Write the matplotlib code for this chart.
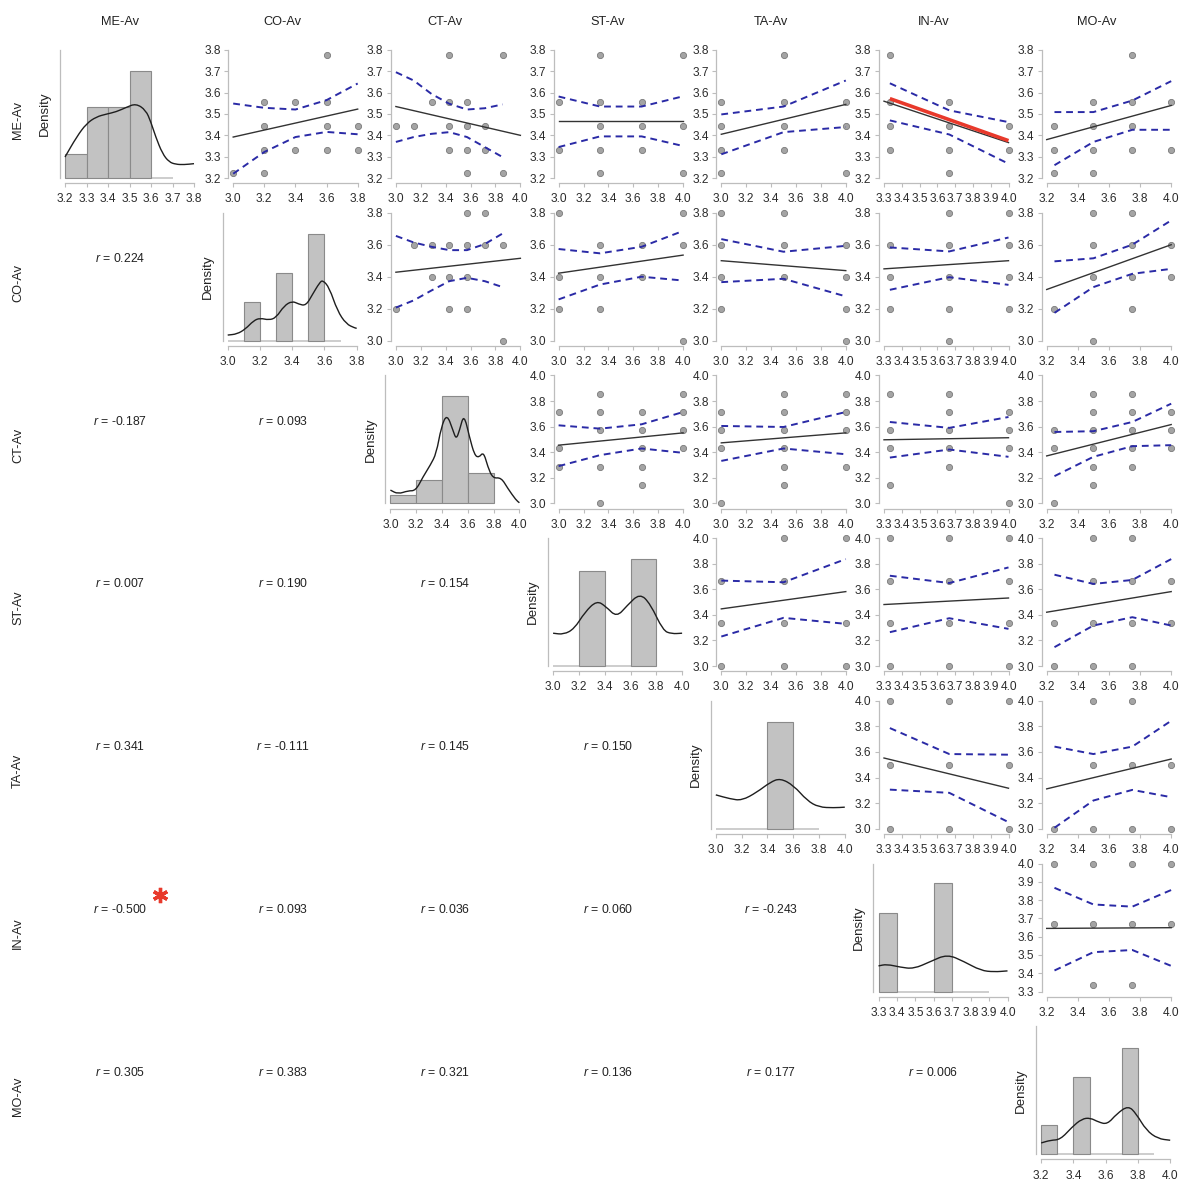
import numpy as np
import matplotlib
matplotlib.use("Agg")
import matplotlib.pyplot as plt
from matplotlib.path import Path
from matplotlib.patches import PathPatch

plt.rcParams['font.family'] = ['Liberation Sans', 'DejaVu Sans']
plt.rcParams['mathtext.fontset'] = 'custom'
plt.rcParams['mathtext.it'] = 'Liberation Sans:italic'
plt.rcParams['mathtext.rm'] = 'Liberation Sans'

# ---------------------------------------------------------------- data
keys = ["ME", "CO", "CT", "ST", "TA", "IN", "MO"]
names = ["ME-Av", "CO-Av", "CT-Av", "ST-Av", "TA-Av", "IN-Av", "MO-Av"]

# axis range and tick step of every variable
axis_min = [3.2, 3.0, 3.0, 3.0, 3.0, 3.3, 3.2]
axis_max = [3.8, 3.8, 4.0, 4.0, 4.0, 4.0, 4.0]
axis_step = [0.1, 0.2, 0.2, 0.2, 0.2, 0.1, 0.2]

# distinct observed values of each variable
levels = {
    "ME": [3.222, 3.333, 3.444, 3.556, 3.778],
    "CO": [3.0, 3.2, 3.4, 3.6, 3.8],
    "CT": [3.0, 3.143, 3.286, 3.429, 3.571, 3.714, 3.857],
    "ST": [3.0, 3.333, 3.667, 4.0],
    "TA": [3.0, 3.5, 4.0],
    "IN": [3.333, 3.667, 4.0],
    "MO": [3.25, 3.5, 3.75, 4.0],
}

# Pearson correlations (lower triangle), row variable, column variable
correlations = {
    ("CO", "ME"): 0.224,
    ("CT", "ME"): -0.187, ("CT", "CO"): 0.093,
    ("ST", "ME"): 0.007, ("ST", "CO"): 0.190, ("ST", "CT"): 0.154,
    ("TA", "ME"): 0.341, ("TA", "CO"): -0.111, ("TA", "CT"): 0.145, ("TA", "ST"): 0.150,
    ("IN", "ME"): -0.500, ("IN", "CO"): 0.093, ("IN", "CT"): 0.036, ("IN", "ST"): 0.060,
    ("IN", "TA"): -0.243,
    ("MO", "ME"): 0.305, ("MO", "CO"): 0.383, ("MO", "CT"): 0.321, ("MO", "ST"): 0.136,
    ("MO", "TA"): 0.177, ("MO", "IN"): 0.006,
}
significant = [("IN", "ME")]

# histograms on the diagonal: bar left edges, bar width, relative heights
hist_left = {
    "ME": [3.2, 3.3, 3.4, 3.5],
    "CO": [3.1, 3.3, 3.5],
    "CT": [3.0, 3.2, 3.4, 3.6],
    "ST": [3.2, 3.6],
    "TA": [3.4],
    "IN": [3.3, 3.6],
    "MO": [3.2, 3.4, 3.7],
}
hist_width = {"ME": 0.1, "CO": 0.1, "CT": 0.2, "ST": 0.2, "TA": 0.2, "IN": 0.1, "MO": 0.1}
hist_height = {
    "ME": [0.19, 0.555, 0.555, 0.836],
    "CO": [0.30, 0.53, 0.83],
    "CT": [0.062, 0.18, 0.84, 0.24],
    "ST": [0.742, 0.836],
    "TA": [0.836],
    "IN": [0.61, 0.844],
    "MO": [0.23, 0.605, 0.832],
}
hist_base = {
    "ME": (3.2, 3.7), "CO": (3.0, 3.7), "CT": (3.0, 3.8), "ST": (3.0, 3.8),
    "TA": (3.0, 3.8), "IN": (3.3, 3.9), "MO": (3.2, 3.9),
}

# kernel density curves on the diagonal (relative heights)
density_x = {
    "ME": [3.2, 3.254, 3.3, 3.346, 3.392, 3.438, 3.484, 3.53, 3.576, 3.599, 3.622,
           3.653, 3.684, 3.715, 3.753, 3.8],
    "CO": [3.0, 3.058, 3.11, 3.16, 3.2, 3.256, 3.30, 3.35, 3.40, 3.44, 3.485, 3.527,
           3.57, 3.59, 3.63, 3.68, 3.735, 3.79, 3.8],
    "CT": [3.0, 3.059, 3.137, 3.196, 3.253, 3.31, 3.356, 3.394, 3.438, 3.485, 3.51,
           3.536, 3.57, 3.613, 3.652, 3.686, 3.722, 3.755, 3.794, 3.858, 3.91, 3.974, 4.0],
    "ST": [3.0, 3.082, 3.164, 3.246, 3.338, 3.41, 3.492, 3.574, 3.672, 3.754, 3.852,
           3.918, 4.0],
    "TA": [3.0, 3.111, 3.202, 3.319, 3.422, 3.5, 3.604, 3.707, 3.798, 3.915, 4.0],
    "IN": [3.3, 3.345, 3.418, 3.491, 3.582, 3.673, 3.764, 3.855, 3.927, 4.0],
    "MO": [3.2, 3.257, 3.319, 3.391, 3.452, 3.504, 3.555, 3.61, 3.668, 3.74, 3.79,
           3.852, 3.924, 4.0],
}
density_y = {
    "ME": [0.164, 0.321, 0.426, 0.478, 0.499, 0.517, 0.551, 0.582, 0.53, 0.439, 0.321,
           0.191, 0.125, 0.107, 0.104, 0.112],
    "CO": [0.044, 0.052, 0.091, 0.156, 0.177, 0.161, 0.18, 0.273, 0.31, 0.286, 0.273,
           0.364, 0.454, 0.473, 0.415, 0.234, 0.13, 0.099, 0.097],
    "CT": [0.104, 0.073, 0.099, 0.099, 0.208, 0.30, 0.39, 0.597, 0.70, 0.571, 0.50,
           0.571, 0.70, 0.519, 0.377, 0.358, 0.403, 0.286, 0.195, 0.203, 0.117, 0.026, 0.005],
    "ST": [0.257, 0.247, 0.291, 0.421, 0.512, 0.465, 0.382, 0.473, 0.569, 0.486, 0.278,
           0.252, 0.257],
    "TA": [0.265, 0.234, 0.221, 0.286, 0.364, 0.395, 0.338, 0.221, 0.169, 0.164, 0.169],
    "IN": [0.2, 0.213, 0.19, 0.177, 0.234, 0.291, 0.234, 0.164, 0.153, 0.161],
    "MO": [0.088, 0.109, 0.114, 0.212, 0.276, 0.284, 0.251, 0.233, 0.315, 0.38, 0.315,
           0.186, 0.121, 0.109],
}

# scatter points: x value (column variable) -> y values (row variable)
scatter_points = {
    ("ME", "CO"): {3.0: [3.222], 3.2: [3.556, 3.444, 3.333, 3.222], 3.4: [3.556, 3.333],
                   3.6: [3.778, 3.556, 3.444, 3.333], 3.8: [3.444, 3.333]},
    ("ME", "CT"): {3.0: [3.444], 3.143: [3.444], 3.286: [3.556],
                   3.429: [3.778, 3.556, 3.444, 3.333], 3.571: [3.556, 3.444, 3.333, 3.222],
                   3.714: [3.444, 3.333], 3.857: [3.778, 3.222]},
    ("ME", "ST"): {3.0: [3.556, 3.333], 3.333: [3.778, 3.556, 3.444, 3.333, 3.222],
                   3.667: [3.556, 3.444, 3.333], 4.0: [3.778, 3.444, 3.222]},
    ("ME", "TA"): {3.0: [3.556, 3.444, 3.333, 3.222], 3.5: [3.778, 3.556, 3.444, 3.333],
                   4.0: [3.556, 3.444, 3.222]},
    ("ME", "IN"): {3.333: [3.778, 3.556, 3.444, 3.333], 3.667: [3.556, 3.444, 3.333, 3.222],
                   4.0: [3.444, 3.333]},
    ("ME", "MO"): {3.25: [3.444, 3.333, 3.222], 3.5: [3.556, 3.444, 3.333, 3.222],
                   3.75: [3.778, 3.556, 3.444, 3.333], 4.0: [3.556, 3.333]},
    ("CO", "CT"): {3.0: [3.2], 3.143: [3.6], 3.286: [3.6, 3.4], 3.429: [3.6, 3.4, 3.2],
                   3.571: [3.8, 3.6, 3.4, 3.2], 3.714: [3.8, 3.6], 3.857: [3.6, 3.0]},
    ("CO", "ST"): {3.0: [3.8, 3.4, 3.2], 3.333: [3.6, 3.4, 3.2], 3.667: [3.6, 3.4],
                   4.0: [3.8, 3.6, 3.0]},
    ("CO", "TA"): {3.0: [3.8, 3.6, 3.4, 3.2], 3.5: [3.8, 3.6, 3.4], 4.0: [3.6, 3.4, 3.2, 3.0]},
    ("CO", "IN"): {3.333: [3.6, 3.4, 3.2], 3.667: [3.8, 3.6, 3.4, 3.2, 3.0],
                   4.0: [3.8, 3.6, 3.4, 3.2]},
    ("CO", "MO"): {3.25: [3.2], 3.5: [3.8, 3.6, 3.4, 3.0], 3.75: [3.8, 3.6, 3.4, 3.2],
                   4.0: [3.6, 3.4]},
    ("CT", "ST"): {3.0: [3.714, 3.429, 3.286], 3.333: [3.857, 3.714, 3.571, 3.286, 3.0],
                   3.667: [3.714, 3.571, 3.429, 3.286, 3.143], 4.0: [3.857, 3.714, 3.571, 3.429]},
    ("CT", "TA"): {3.0: [3.714, 3.571, 3.429, 3.0],
                   3.5: [3.857, 3.714, 3.571, 3.429, 3.286, 3.143],
                   4.0: [3.857, 3.714, 3.571, 3.286]},
    ("CT", "IN"): {3.333: [3.857, 3.571, 3.429, 3.143],
                   3.667: [3.857, 3.714, 3.571, 3.429, 3.286], 4.0: [3.714, 3.571, 3.429, 3.0]},
    ("CT", "MO"): {3.25: [3.571, 3.429, 3.0], 3.5: [3.857, 3.714, 3.571, 3.429, 3.286, 3.143],
                   3.75: [3.857, 3.714, 3.571, 3.429, 3.286], 4.0: [3.714, 3.571, 3.429]},
    ("ST", "TA"): {3.0: [3.667, 3.333, 3.0], 3.5: [4.0, 3.667, 3.333, 3.0],
                   4.0: [4.0, 3.333, 3.0]},
    ("ST", "IN"): {3.333: [4.0, 3.667, 3.333, 3.0], 3.667: [4.0, 3.667, 3.333, 3.0],
                   4.0: [4.0, 3.667, 3.333, 3.0]},
    ("ST", "MO"): {3.25: [3.333, 3.0], 3.5: [4.0, 3.667, 3.333, 3.0],
                   3.75: [4.0, 3.667, 3.333, 3.0], 4.0: [3.667, 3.333]},
    ("TA", "IN"): {3.333: [4.0, 3.5, 3.0], 3.667: [4.0, 3.5, 3.0], 4.0: [4.0, 3.5, 3.0]},
    ("TA", "MO"): {3.25: [3.0], 3.5: [4.0, 3.5, 3.0], 3.75: [4.0, 3.5, 3.0], 4.0: [3.5, 3.0]},
    ("IN", "MO"): {3.25: [4.0, 3.667], 3.5: [4.0, 3.667, 3.333], 3.75: [4.0, 3.667, 3.333],
                   4.0: [4.0, 3.667]},
}

# regression line: fitted y at the left and right end of the x axis
fit_ends = {
    ("ME", "CO"): (3.392, 3.523), ("ME", "CT"): (3.535, 3.400), ("ME", "ST"): (3.467, 3.467),
    ("ME", "TA"): (3.405, 3.545), ("ME", "IN"): (3.560, 3.366), ("ME", "MO"): (3.380, 3.540),
    ("CO", "CT"): (3.428, 3.515), ("CO", "ST"): (3.422, 3.535), ("CO", "TA"): (3.500, 3.438),
    ("CO", "IN"): (3.449, 3.500), ("CO", "MO"): (3.320, 3.600),
    ("CT", "ST"): (3.455, 3.551), ("CT", "TA"): (3.473, 3.551), ("CT", "IN"): (3.497, 3.513),
    ("CT", "MO"): (3.371, 3.616),
    ("ST", "TA"): (3.447, 3.582), ("ST", "IN"): (3.481, 3.532), ("ST", "MO"): (3.421, 3.582),
    ("TA", "IN"): (3.553, 3.317), ("TA", "MO"): (3.312, 3.545),
    ("IN", "MO"): (3.645, 3.649),
}

# 95% confidence band evaluated at the distinct x values
band_upper = {
    ("ME", "CO"): [3.549, 3.529, 3.521, 3.565, 3.643],
    ("ME", "CT"): [3.696, 3.657, 3.594, 3.548, 3.521, 3.527, 3.545],
    ("ME", "ST"): [3.582, 3.535, 3.535, 3.583],
    ("ME", "TA"): [3.498, 3.535, 3.657],
    ("ME", "IN"): [3.644, 3.517, 3.462],
    ("ME", "MO"): [3.509, 3.509, 3.563, 3.654],
    ("CO", "CT"): [3.655, 3.614, 3.587, 3.566, 3.566, 3.604, 3.670],
    ("CO", "ST"): [3.573, 3.546, 3.587, 3.686],
    ("CO", "TA"): [3.635, 3.556, 3.593],
    ("CO", "IN"): [3.583, 3.558, 3.645],
    ("CO", "MO"): [3.496, 3.515, 3.600, 3.752],
    ("CT", "ST"): [3.610, 3.584, 3.618, 3.714],
    ("CT", "TA"): [3.605, 3.597, 3.714],
    ("CT", "IN"): [3.636, 3.590, 3.675],
    ("CT", "MO"): [3.558, 3.564, 3.636, 3.779],
    ("ST", "TA"): [3.668, 3.655, 3.836],
    ("ST", "IN"): [3.706, 3.649, 3.771],
    ("ST", "MO"): [3.714, 3.642, 3.673, 3.836],
    ("TA", "IN"): [3.787, 3.584, 3.579],
    ("TA", "MO"): [3.642, 3.584, 3.642, 3.844],
    ("IN", "MO"): [3.867, 3.776, 3.764, 3.855],
}
band_lower = {
    ("ME", "CO"): [3.220, 3.322, 3.392, 3.416, 3.405],
    ("ME", "CT"): [3.369, 3.392, 3.407, 3.415, 3.392, 3.345, 3.298],
    ("ME", "ST"): [3.345, 3.395, 3.395, 3.350],
    ("ME", "TA"): [3.311, 3.415, 3.439],
    ("ME", "IN"): [3.470, 3.404, 3.267],
    ("ME", "MO"): [3.260, 3.369, 3.426, 3.426],
    ("CO", "CT"): [3.207, 3.252, 3.314, 3.372, 3.393, 3.372, 3.335],
    ("CO", "ST"): [3.258, 3.351, 3.400, 3.376],
    ("CO", "TA"): [3.366, 3.387, 3.277],
    ("CO", "IN"): [3.318, 3.397, 3.349],
    ("CO", "MO"): [3.174, 3.335, 3.418, 3.449],
    ("CT", "ST"): [3.291, 3.377, 3.429, 3.395],
    ("CT", "TA"): [3.332, 3.429, 3.384],
    ("CT", "IN"): [3.358, 3.421, 3.364],
    ("CT", "MO"): [3.213, 3.364, 3.447, 3.455],
    ("ST", "TA"): [3.231, 3.377, 3.330],
    ("ST", "IN"): [3.265, 3.374, 3.291],
    ("ST", "MO"): [3.148, 3.317, 3.382, 3.317],
    ("TA", "IN"): [3.306, 3.281, 3.052],
    ("TA", "MO"): [3.008, 3.221, 3.304, 3.247],
    ("IN", "MO"): [3.415, 3.515, 3.527, 3.440],
}

# highlighted fit of the significant pair (x range, y values)
highlight_x = {("ME", "IN"): [3.333, 4.0]}
highlight_y = {("ME", "IN"): [3.572, 3.375]}

# ---------------------------------------------------------------- layout
W = H = 1180.0
fig = plt.figure(figsize=(W / 100, H / 100), dpi=100)
fig.patch.set_facecolor("white")

CELL = 162.7      # grid pitch in pixels
X0 = 38.0         # left edge of the first grid cell
Y0 = 50.0         # top of the first row's plotting range
PAD = 0.04        # axis range extension on each side

AXIS_COL = "#bdbdbd"
TEXT_COL = "#2b2b2b"
BAND_COL = "#2a2aa6"
TICK_SIZE = 8.6


def add_px_axes(left, top, width, height):
    return fig.add_axes([left / W, 1 - (top + height) / H, width / W, height / H])


def panel(i, j, diag):
    if diag:
        left, width = X0 + CELL * j + 27.0, 129.0
    else:
        left, width = X0 + CELL * j + 32.5, 124.5
    top, height = Y0 + CELL * i, 128.0
    ax = add_px_axes(left - PAD * width, top - PAD * height,
                     width * (1 + 2 * PAD), height * (1 + 2 * PAD))
    ax.patch.set_alpha(0)
    for s in ("top", "right"):
        ax.spines[s].set_visible(False)
    for s in ("left", "bottom"):
        ax.spines[s].set_color(AXIS_COL)
        ax.spines[s].set_linewidth(0.9)
    return ax


def ticks_for(k):
    lo, hi, st = axis_min[k], axis_max[k], axis_step[k]
    n = int(round((hi - lo) / st))
    return [round(lo + st * m, 2) for m in range(n + 1)]


def set_x(ax, k):
    lo, hi = axis_min[k], axis_max[k]
    r = hi - lo
    ax.set_xlim(lo - PAD * r, hi + PAD * r)
    t = ticks_for(k)
    ax.set_xticks(t)
    ax.set_xticklabels([f"{v:.1f}" for v in t])
    ax.spines["bottom"].set_bounds(lo, hi)
    ax.tick_params(axis="x", direction="out", length=3.2, width=0.8, color=AXIS_COL,
                   labelsize=TICK_SIZE, labelcolor=TEXT_COL, pad=4.2)


def set_y(ax, k):
    lo, hi = axis_min[k], axis_max[k]
    r = hi - lo
    ax.set_ylim(lo - PAD * r, hi + PAD * r)
    t = ticks_for(k)
    ax.set_yticks(t)
    ax.set_yticklabels([f"{v:.1f}" for v in t])
    ax.spines["left"].set_bounds(lo, hi)
    ax.tick_params(axis="y", direction="out", length=3.2, width=0.8, color=AXIS_COL,
                   labelsize=TICK_SIZE, labelcolor=TEXT_COL, pad=2.2)


def smooth_curve(ax, xs, ys, **kw):
    """Draw a polyline through the given points with rounded (quadratic) corners."""
    pts = list(zip(xs, ys))
    verts = [pts[0]]
    codes = [Path.MOVETO]
    for k in range(1, len(pts) - 1):
        m0 = ((pts[k - 1][0] + pts[k][0]) / 2, (pts[k - 1][1] + pts[k][1]) / 2)
        m1 = ((pts[k][0] + pts[k + 1][0]) / 2, (pts[k][1] + pts[k + 1][1]) / 2)
        if k == 1:
            verts.append(m0)
            codes.append(Path.LINETO)
        verts += [pts[k], m1]
        codes += [Path.CURVE3, Path.CURVE3]
    verts.append(pts[-1])
    codes.append(Path.LINETO)
    ax.add_patch(PathPatch(Path(verts, codes), fill=False, **kw))


for i, rk in enumerate(keys):
    for j, ck in enumerate(keys):
        if i == j:
            ax = panel(i, j, True)
            set_x(ax, j)
            ax.set_ylim(-PAD, 1 + PAD)
            ax.set_yticks([])
            ax.spines["left"].set_bounds(0, 1)
            ax.plot(hist_base[rk], [0, 0], color="#c9c9c9", lw=1.3,
                    solid_capstyle="butt", zorder=1)
            ax.bar(hist_left[rk], hist_height[rk], width=hist_width[rk], align="edge",
                   color="#c2c2c2", edgecolor="#8a8a8a", linewidth=0.8, zorder=2)
            smooth_curve(ax, density_x[rk], density_y[rk], edgecolor="#1e1e1e",
                         lw=1.0, zorder=3)
        elif j > i:
            key = (rk, ck)
            ax = panel(i, j, False)
            set_x(ax, j)
            set_y(ax, i)
            xs, ys = [], []
            for xv, yl in scatter_points[key].items():
                for yv in yl:
                    xs.append(xv)
                    ys.append(yv)
            ax.scatter(xs, ys, s=20, c="#a4a4a4", edgecolors="#7a7a7a",
                       linewidths=0.6, clip_on=False, zorder=2)
            ax.plot([axis_min[j], axis_max[j]], fit_ends[key], color="#333333",
                    lw=1.0, zorder=3)
            ax.plot(levels[ck], band_upper[key], color=BAND_COL, lw=1.4,
                    ls=(0, (3.5, 2.5)), zorder=3)
            ax.plot(levels[ck], band_lower[key], color=BAND_COL, lw=1.4,
                    ls=(0, (3.5, 2.5)), zorder=3)
            if key in highlight_x:
                ax.plot(highlight_x[key], highlight_y[key], color="#e8392b", lw=2.6,
                        solid_capstyle="butt", zorder=4)

# ---------------------------------------------------------------- text layer
ov = fig.add_axes([0, 0, 1, 1])
ov.set_xlim(0, W)
ov.set_ylim(H, 0)
ov.axis("off")

for j, nm in enumerate(names):
    ov.text(120 + CELL * j, 22, nm, ha="center", va="center", fontsize=9.2, color="#222222")
    ov.text(18, 120 + CELL * j, nm, ha="center", va="center", rotation=90,
            fontsize=9.2, color="#222222")
    ov.text(X0 + CELL * j + 7, Y0 + CELL * j + 64, "Density", ha="center", va="center",
            rotation=90, fontsize=9.6, color="#222222")

for (rk, ck), r in correlations.items():
    i, j = keys.index(rk), keys.index(ck)
    cx, cy = 120 + CELL * j, 258.5 + CELL * (i - 1)
    ov.text(cx, cy, f"$r$ = {r:.3f}", ha="center", va="center", fontsize=8.8,
            color="#222222")
    if (rk, ck) in significant:
        ov.plot([cx + 40], [cy - 14], marker=(6, 2, 0), markersize=11,
                markeredgewidth=2.4, color="#e8392b", linestyle="none")

fig.savefig("out.png", dpi=100, facecolor="white")
